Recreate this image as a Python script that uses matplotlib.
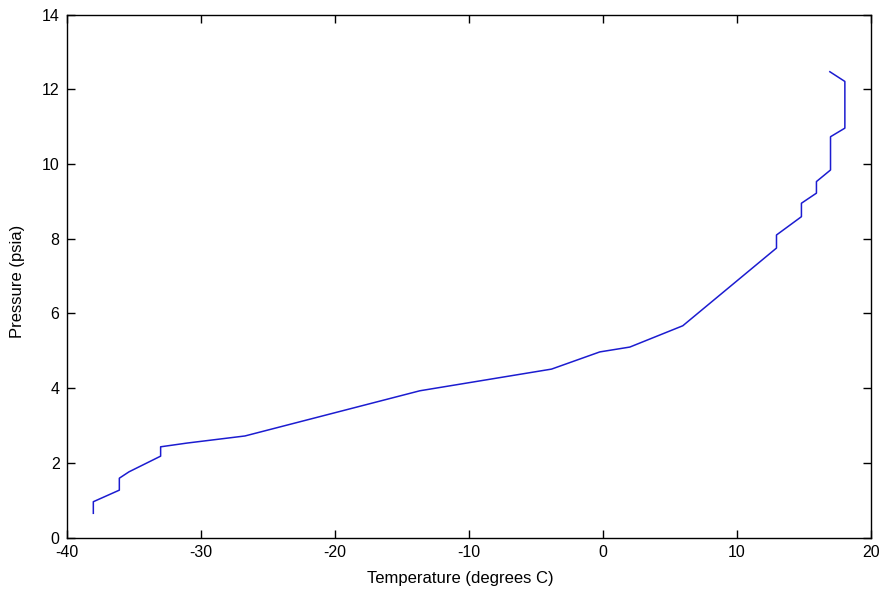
import matplotlib
matplotlib.use('Agg')
import matplotlib.pyplot as plt

# Temperature / pressure readings
temperature = [-38.0, -38.0, -36.06, -36.06, -35.34, -32.98, -32.98, -31.01, -26.69,
               -13.64, -3.82, -0.22, 2.02, 5.97, 12.96, 12.96, 14.82, 14.82,
               15.94, 15.94, 16.99, 16.99, 18.06, 18.06, 16.94]
pressure = [0.65, 0.96, 1.27, 1.59, 1.76, 2.18, 2.43, 2.53, 2.72,
            3.93, 4.51, 4.97, 5.10, 5.67, 7.75, 8.10, 8.59, 8.95,
            9.22, 9.53, 9.84, 10.73, 10.96, 12.21, 12.47]

xticks = [-40, -30, -20, -10, 0, 10, 20]
yticks = [0, 2, 4, 6, 8, 10, 12, 14]

plt.rcParams['font.family'] = ['Liberation Sans', 'DejaVu Sans']
plt.rcParams['axes.unicode_minus'] = False

fig = plt.figure(figsize=(8.81, 5.95), dpi=100)
ax = fig.add_axes([0.0755, 0.0965, 0.913, 0.879])
ax.plot(temperature, pressure, color='#1c1cd0', linewidth=1.1)

ax.set_xlim(-40, 20)
ax.set_ylim(0, 14)
ax.set_xticks(xticks)
ax.set_yticks(yticks)
ax.tick_params(direction='in', top=True, right=True, labelsize=11.5, length=6, width=1)
ax.tick_params(axis='x', pad=5)
ax.tick_params(axis='y', pad=5)
for s in ax.spines.values():
    s.set_linewidth(1)

ax.set_xlabel('Temperature (degrees C)', fontsize=12)
ax.set_ylabel('Pressure (psia)', fontsize=12)
ax.xaxis.set_label_coords(0.49, -0.064)
ax.yaxis.set_label_coords(-0.052, 0.49)

plt.savefig('out.png', dpi=100)
